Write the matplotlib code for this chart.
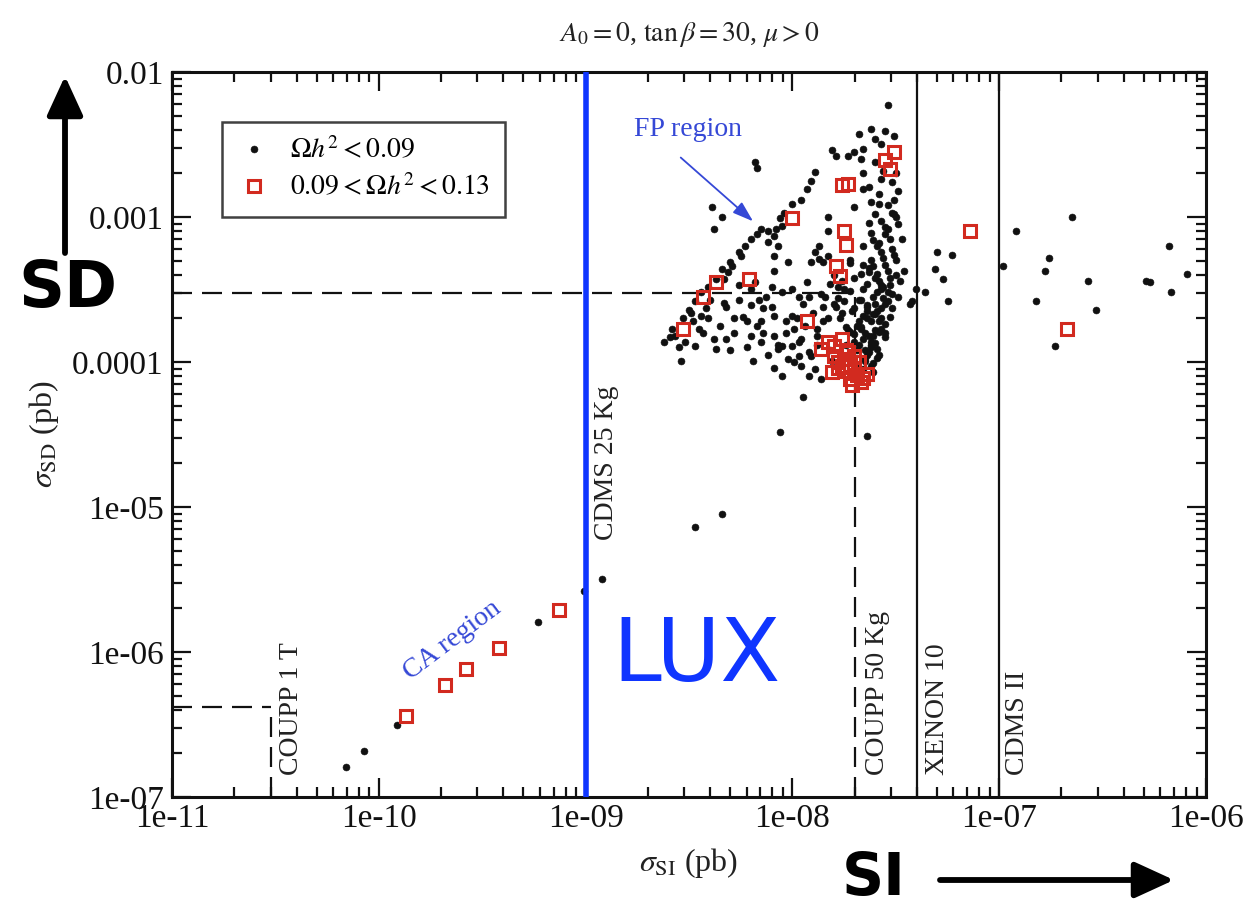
import numpy as np
import matplotlib
matplotlib.use("Agg")
import matplotlib.pyplot as plt
from matplotlib.ticker import LogLocator, NullFormatter

plt.rcParams['font.family'] = ['Liberation Serif', 'DejaVu Serif']
plt.rcParams['mathtext.fontset'] = 'stix'

# ---- tick values and labels -------------------------------------------
x_ticks = [1e-11, 1e-10, 1e-9, 1e-8, 1e-7, 1e-6]
x_tick_labels = ['1e-11', '1e-10', '1e-09', '1e-08', '1e-07', '1e-06']
y_ticks = [1e-7, 1e-6, 1e-5, 1e-4, 1e-3, 1e-2]
y_tick_labels = ['1e-07', '1e-06', '1e-05', '0.0001', '0.001', '0.01']

# ---- scan points: log10 sigma_SI (pb) and log10 sigma_SD (pb) ---------
# Omega h^2 < 0.09
log_si_low = [
    # coannihilation branch and sparse points
    -10.16, -10.07, -9.91, -9.23, -9.01, -8.92, -8.47, -8.34, -8.06, -7.64, -7.95,
    # focus-point band
    -8.59, -8.58, -8.53, -8.50, -8.47, -8.44, -8.41, -8.37, -8.34, -8.30,
    -8.26, -8.23, -8.20, -8.17, -8.15, -8.12, -8.08, -8.06, -8.04, -8.00,
    -7.96, -7.93, -7.91, -7.89, -8.05, -8.09, -8.07, -8.09, -8.12, -8.25,
    -8.29, -8.31, -8.33,
    -8.18, -8.17, -8.39, -8.34, -8.38,
    # upper cluster
    -7.54, -7.55, -7.62, -7.68, -7.60, -7.66, -7.70, -7.81, -7.79, -7.73,
    -7.67, -7.51, -7.63, -7.57, -7.49, -7.51, -7.66, -7.70, -7.60, -7.51,
    -7.49, -7.54, -7.63, -7.83, -7.83, -7.87, -7.89, -7.87, -7.83, -7.85,
    -7.91, -8.09, -8.02, -7.46,
    # dense column near 2-3e-8
    -7.58, -7.55, -7.59, -7.52, -7.56, -7.62, -7.50, -7.54, -7.59, -7.48,
    -7.64, -7.57, -7.52, -7.61, -7.68, -7.55, -7.64, -7.59, -7.66, -7.53,
    -7.62, -7.69, -7.57, -7.65, -7.55, -7.62, -7.68, -7.59, -7.64, -7.61,
    -7.66, -7.72, -7.75, -7.71, -7.77, -7.74, -7.70, -7.78, -7.82, -7.67,
    -7.72, -7.66, -7.62, -7.49, -7.43, -7.47, -7.50, -7.66,
    -7.60, -7.56, -7.52, -7.58, -7.54, -7.62, -7.50, -7.57, -7.53, -7.61,
    -7.57, -7.51, -7.55, -7.63, -7.50, -7.58, -7.53, -7.66, -7.56, -7.60,
    -7.52, -7.64, -7.57, -7.68, -7.60, -7.55, -7.66, -7.62, -7.70, -7.58,
    -7.65, -7.61, -7.69, -7.73, -7.76, -7.79, -7.75, -7.80, -7.70, -7.72,
    -7.53, -7.56, -7.59, -7.54, -7.57, -7.60, -7.55, -7.58, -7.61, -7.63,
    -7.59, -7.62, -7.65, -7.67, -7.64, -7.52, -7.55, -7.58, -7.61, -7.57,
    -7.66, -7.63, -7.60, -7.57, -7.54, -7.67, -7.64, -7.61, -7.58, -7.70,
    -7.67, -7.63, -7.60, -7.72, -7.69, -7.65, -7.62, -7.74, -7.71, -7.68,
    # lower part of the wedge
    -8.20, -8.05, -7.97, -7.92, -7.86, -8.33, -8.28, -8.41, -8.45, -8.49,
    -8.57, -8.47, -8.38, -8.32, -8.37, -8.54, -8.20, -8.14, -8.09, -8.17,
    -8.20, -8.15, -8.09, -8.05, -7.99, -8.00, -7.96, -8.19, -8.07, -8.02,
    -7.96, -7.89, -7.92, -7.97, -8.09, -7.86, -7.81, -7.88, -7.83, -8.26,
    -8.13, -8.42, -8.24,
    -8.44, -8.35, -8.28, -8.22, -8.12, -8.03, -7.98, -8.15, -8.32, -8.40,
    -8.48, -8.52, -8.43, -8.30, -8.05, -7.92, -7.88, -7.85, -7.93, -8.00,
    -8.10, -8.18, -8.26, -8.62, -8.55,
    -7.95, -7.90, -7.85, -8.00, -7.94, -7.88, -8.10, -8.03, -7.97, -7.91,
    -8.14, -8.07, -7.99, -8.22, -8.16, -7.84, -7.80, -7.78, -7.82, -7.76,
    # large sigma_SI tail
    -7.42, -7.36, -7.30, -7.23, -7.31, -7.27, -7.25, -7.40, -6.98, -6.92,
    -6.65, -6.76, -6.78, -6.57, -6.82, -6.53, -6.73, -6.29, -6.27, -6.18,
    -6.17, -6.09,
]
log_sd_low = [
    -6.79, -6.68, -6.50, -5.79, -5.58, -5.50, -5.14, -5.05, -4.48, -4.51, -4.24,
    -3.83, -3.77, -3.70, -3.64, -3.58, -3.52, -3.48, -3.43, -3.36, -3.31,
    -3.24, -3.20, -3.15, -3.12, -3.08, -3.10, -3.08, -3.01, -2.97, -2.91,
    -2.88, -2.81, -2.75, -2.69, -3.06, -3.13, -3.20, -3.27, -3.17, -3.27,
    -3.34, -3.38, -3.43,
    -2.62, -2.66, -2.93, -3.00, -3.08,
    -2.23, -2.41, -2.39, -2.43, -2.46, -2.53, -2.55, -2.54, -2.58, -2.58,
    -2.60, -2.44, -2.79, -2.74, -2.82, -2.88, -2.81, -2.93, -2.98, -2.98,
    -3.05, -3.08, -3.04, -3.00, -3.10, -3.20, -3.24, -3.29, -3.27, -3.31,
    -3.31, -3.37, -3.31, -3.37,
    -2.91, -3.12, -3.20, -3.22, -3.28, -3.30, -3.30, -3.37, -3.39, -3.44,
    -3.46, -3.50, -3.53, -3.55, -3.57, -3.60, -3.61, -3.65, -3.68, -3.69,
    -3.72, -3.75, -3.77, -3.80, -3.83, -3.86, -3.88, -3.91, -3.95, -4.01,
    -4.05, -3.51, -3.58, -3.65, -3.70, -3.76, -3.81, -3.56, -3.46, -3.39,
    -3.32, -3.20, -3.11, -3.55, -3.60, -3.15, -2.70, -2.70,
    -2.62, -2.68, -2.76, -2.84, -2.92, -2.90, -3.00, -3.03, -3.15, -3.16,
    -3.24, -3.26, -3.33, -3.35, -3.40, -3.44, -3.47, -3.50, -3.56, -3.60,
    -3.63, -3.65, -3.70, -3.72, -3.78, -3.80, -3.84, -3.90, -3.86, -3.95,
    -3.99, -4.07, -4.02, -3.78, -3.66, -3.62, -3.50, -3.40, -3.42, -3.30,
    -3.42, -3.48, -3.52, -3.58, -3.63, -3.67, -3.74, -3.79, -3.82, -3.93,
    -3.97, -3.88, -3.92, -3.76, -3.70, -2.97, -3.07, -3.18, -3.34, -2.50,
    -3.33, -3.38, -3.42, -3.47, -3.52, -3.57, -3.62, -3.67, -3.72, -3.63,
    -3.77, -3.82, -3.87, -3.79, -3.92, -3.97, -4.03, -3.88, -3.95, -4.08,
    -3.50, -3.52, -3.55, -3.55, -3.53, -3.59, -3.70, -3.70, -3.77, -3.66,
    -3.82, -3.89, -3.84, -3.84, -3.91, -3.99, -3.61, -3.63, -3.68, -3.75,
    -3.82, -3.86, -3.82, -3.89, -3.77, -3.89, -3.84, -3.99, -3.91, -3.98,
    -4.03, -4.05, -3.93, -3.96, -4.04, -4.12, -3.99, -3.77, -3.70, -3.57,
    -3.55, -3.63, -3.69,
    -3.68, -3.75, -3.80, -3.90, -3.95, -3.80, -3.70, -3.72, -3.62, -3.57,
    -3.72, -3.86, -3.80, -3.92, -4.10, -4.10, -3.88, -3.62, -3.45, -3.50,
    -3.48, -3.45, -3.47, -3.86, -3.90,
    -3.60, -3.66, -3.72, -3.68, -3.75, -3.82, -3.62, -3.72, -3.86, -3.96,
    -3.80, -3.88, -4.00, -3.72, -3.57, -3.55, -3.60, -3.48, -3.92, -3.44,
    -3.58, -3.52, -3.24, -3.26, -3.36, -3.43, -3.58, -3.50, -3.34, -3.10,
    -3.00, -3.28, -3.37, -3.44, -3.58, -3.64, -3.89, -3.44, -3.45, -3.20,
    -3.52, -3.39,
]

# 0.09 < Omega h^2 < 0.13
log_si_wmap = [
    -9.87, -9.68, -9.58, -9.42, -9.13,
    -7.51, -7.55, -7.53, -7.73, -7.76, -8.00, -7.75, -7.74, -7.79, -7.77,
    -8.21, -8.37, -8.43, -8.53, -7.93,
    -7.83, -7.76, -7.86, -7.80, -7.73, -7.76, -7.70, -7.81, -7.72, -7.67,
    -7.68, -7.74, -7.64, -7.78, -7.70,
    -7.75, -7.72, -7.69, -7.78, -7.71, -7.66, -7.74, -7.80,
    -7.14, -6.67,
]
log_sd_wmap = [
    -6.44, -6.23, -6.12, -5.97, -5.71,
    -2.55, -2.61, -2.67, -2.77, -2.78, -3.01, -3.10, -3.19, -3.34, -3.41,
    -3.43, -3.45, -3.55, -3.77, -3.72,
    -3.86, -3.84, -3.91, -3.96, -3.93, -4.03, -4.05, -4.07, -4.12, -4.14,
    -4.00, -4.06, -4.08, -4.00, -3.96,
    -3.98, -4.02, -4.09, -4.04, -4.16, -4.11, -3.92, -3.89,
    -3.10, -3.77,
]

# ---- experimental reaches (pb) ---------------------------------------
lux_si = 1e-9
coupp1t_si, coupp1t_sd = 3e-11, 4.2e-7
coupp50_si, coupp50_sd = 2e-8, 3e-4
xenon10_si = 4e-8
cdms2_si = 1e-7

W, H = 1253, 907
fig = plt.figure(figsize=(W / 100, H / 100), dpi=100)
ax = fig.add_axes([172 / W, 110 / H, 1034 / W, 725 / H])
ax.set_xscale('log')
ax.set_yscale('log')
ax.set_xlim(1e-11, 1e-6)
ax.set_ylim(1e-7, 1e-2)

black = '#111111'
red = '#d22a1f'
blue_txt = '#3548d6'
lux_blue = '#0f35ff'
gray_txt = '#222222'

# reference lines
dash = dict(color=black, lw=1.6, dashes=(9, 4.5), zorder=2)
ax.plot([1e-11, coupp1t_si], [coupp1t_sd, coupp1t_sd], **dash)
ax.plot([coupp1t_si, coupp1t_si], [1e-7, coupp1t_sd], **dash)
ax.plot([1e-11, coupp50_si], [coupp50_sd, coupp50_sd], **dash)
ax.plot([coupp50_si, coupp50_si], [1e-7, coupp50_sd], **dash)
ax.axvline(xenon10_si, color=black, lw=1.6, zorder=2)
ax.axvline(cdms2_si, color=black, lw=1.6, zorder=2)

# scan points
ax.plot(10 ** np.array(log_si_low), 10 ** np.array(log_sd_low), ls='none',
        marker='o', ms=5.0, mfc=black, mec=black, mew=0.4, zorder=3,
        label=r'$\Omega h^2 < 0.09$')
ax.plot(10 ** np.array(log_si_wmap), 10 ** np.array(log_sd_wmap), ls='none',
        marker='s', ms=9, mfc='none', mec=red, mew=2.2, zorder=4,
        label=r'$0.09 < \Omega h^2 < 0.13$')

# LUX line
ax.axvline(lux_si, color=lux_blue, lw=4, zorder=6)

# detector labels
lab = dict(rotation=90, ha='center', va='bottom', fontsize=20, color=gray_txt)
ax.text(10 ** -10.42, 1.42e-7, 'COUPP 1 T', **lab)
ax.text(10 ** -8.90, 10 ** -5.23, 'CDMS 25 Kg', **lab)
ax.text(10 ** -7.59, 1.42e-7, 'COUPP 50 Kg', **lab)
ax.text(10 ** -7.30, 1.42e-7, 'XENON 10', **lab)
ax.text(10 ** -6.91, 1.42e-7, 'CDMS II', **lab)

# region annotations
ax.text(10 ** -8.505, 10 ** -2.40, 'FP region', ha='center', va='center',
        fontsize=20, color=blue_txt)
ax.annotate('', xy=(10 ** -8.19, 10 ** -3.03), xytext=(10 ** -8.54, 10 ** -2.59),
            arrowprops=dict(arrowstyle='-|>,head_length=0.9,head_width=0.3',
                            color=blue_txt, lw=1.3, shrinkA=0, shrinkB=0,
                            mutation_scale=14))
ax.text(10 ** -9.646, 10 ** -5.917, 'CA region', rotation=37, ha='center',
        va='center', rotation_mode='anchor', fontsize=20, color=blue_txt)

ax.text(0.4255, 0.193, 'LUX', transform=ax.transAxes, ha='left', va='center',
        fontsize=63, color=lux_blue, family=['DejaVu Sans'], zorder=7)

# axes styling
ax.set_xticks(x_ticks)
ax.set_xticklabels(x_tick_labels)
ax.set_yticks(y_ticks)
ax.set_yticklabels(y_tick_labels)
for axis in (ax.xaxis, ax.yaxis):
    axis.set_minor_locator(LogLocator(base=10, subs=np.arange(2, 10), numticks=20))
    axis.set_minor_formatter(NullFormatter())
ax.tick_params(which='both', direction='in', top=True, right=True,
               width=1.6, colors=black)
ax.tick_params(which='major', length=14, labelsize=24, pad=6)
ax.tick_params(axis='x', which='major', pad=5)
ax.tick_params(which='minor', length=7)
for s in ax.spines.values():
    s.set_linewidth(2.2)
    s.set_color(black)

ax.set_xlabel(r'$\sigma_{\rm SI}$ (pb)', fontsize=23, labelpad=8, color=gray_txt)
ax.set_ylabel(r'$\sigma_{\rm SD}$ (pb)', fontsize=23, labelpad=8, color=gray_txt)
ax.set_title(r'$A_0 = 0$, $\tan\beta = 30$, $\mu > 0$', fontsize=20, pad=22,
             color=gray_txt)

leg = ax.legend(loc='upper left', bbox_to_anchor=(0.048, 0.931), fontsize=20,
                frameon=True, fancybox=False, handlelength=1.2,
                handletextpad=0.7, borderpad=0.55, labelspacing=0.35,
                borderaxespad=0)
leg.get_frame().set_edgecolor(black)
leg.get_frame().set_linewidth(1.8)
leg.set_zorder(8)

# axis direction markers
arrow_kw = dict(arrowstyle='-|>,head_length=1.2,head_width=0.55', color='black',
                lw=4.2, shrinkA=0, shrinkB=0, mutation_scale=20)
ax.annotate('', xy=(65, H - 76), xytext=(65, H - 253), xycoords='figure pixels',
            textcoords='figure pixels', arrowprops=arrow_kw, annotation_clip=False)
ax.annotate('', xy=(1174, H - 880), xytext=(940, H - 880), xycoords='figure pixels',
            textcoords='figure pixels', arrowprops=arrow_kw, annotation_clip=False)
fig.text(68 / W, 1 - 289 / H, 'SD', ha='center', va='center', fontsize=46,
         fontweight='bold', family=['DejaVu Sans'])
fig.text(874 / W, 1 - 895 / H, 'SI', ha='center', va='baseline', fontsize=42,
         fontweight='bold', family=['DejaVu Sans'])

fig.savefig('out.png', dpi=100)
